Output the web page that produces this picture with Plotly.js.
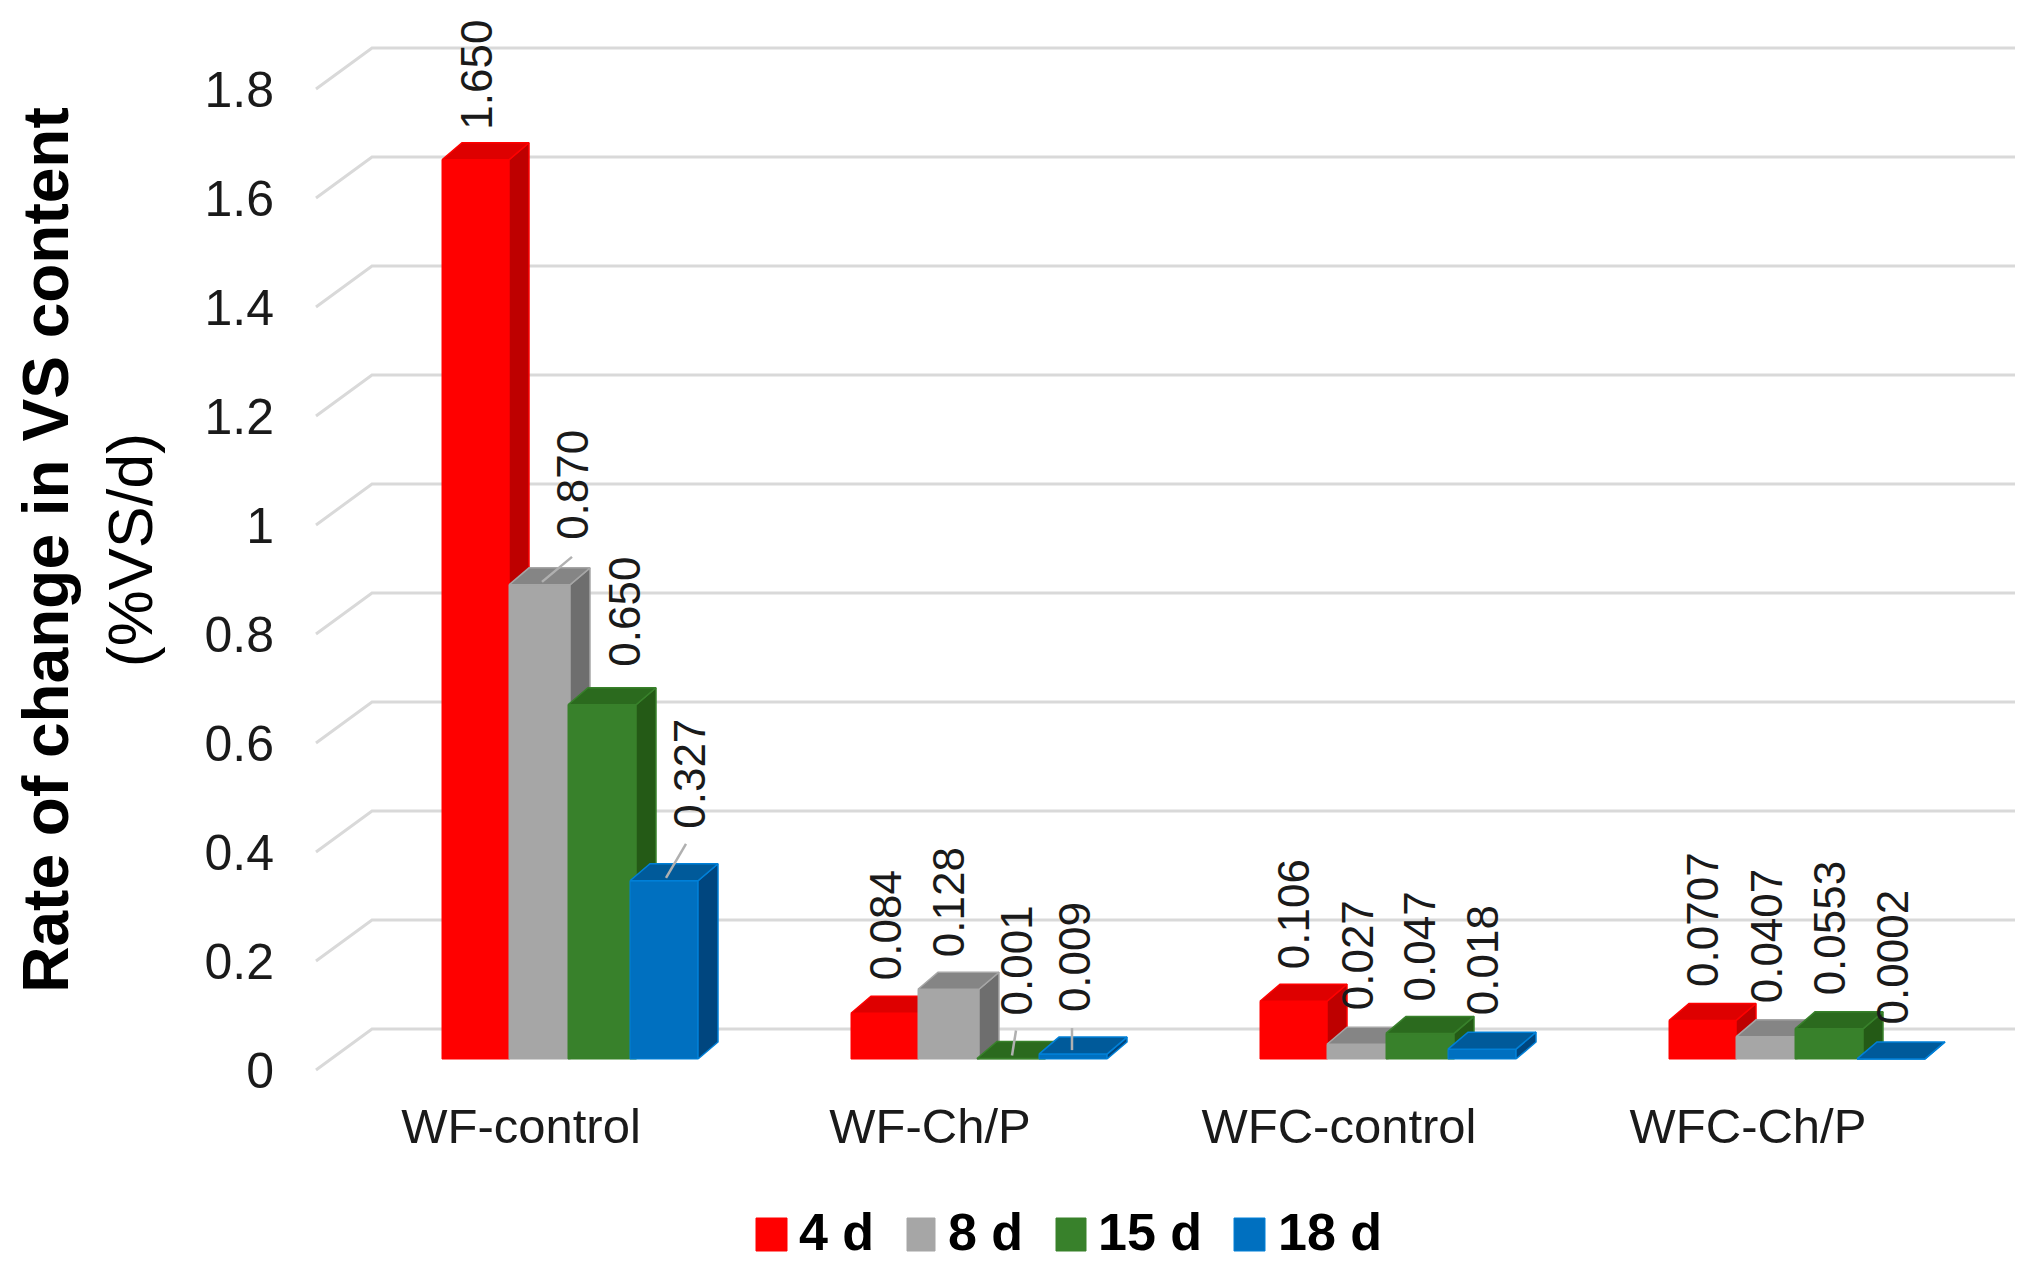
<!DOCTYPE html>
<html>
<head>
<meta charset="utf-8">
<script src="https://cdn.plot.ly/plotly-3.0.1.min.js"></script>
<style>html,body{margin:0;padding:0;background:#fff}#chart{width:2033px;height:1277px}</style>
</head>
<body>
<div id="chart"></div>
<script>
// ---- chart data ----
const categories = ['WF-control', 'WF-Ch/P', 'WFC-control', 'WFC-Ch/P'];
const seriesNames = ['4 d', '8 d', '15 d', '18 d'];
const values4d  = [1.650, 0.084, 0.106, 0.0707];
const values8d  = [0.870, 0.128, 0.027, 0.0407];
const values15d = [0.650, 0.001, 0.047, 0.0553];
const values18d = [0.327, 0.009, 0.018, 0.0002];
const labels4d  = ['1.650', '0.084', '0.106', '0.0707'];
const labels8d  = ['0.870', '0.128', '0.027', '0.0407'];
const labels15d = ['0.650', '0.001', '0.047', '0.0553'];
const labels18d = ['0.327', '0.009', '0.018', '0.0002'];
const yTicks = [0, 0.2, 0.4, 0.6, 0.8, 1, 1.2, 1.4, 1.6, 1.8];

// ---- layout constants (pixels) ----
const W = 2033, H = 1277;
const plotL = 275, plotT = 10, plotB = 1090;
const unitX = 409, unitY = 545;          // px per category, px per value unit
const tickX0 = 521;                      // pixel of first category tick
const frontY0 = 1070, barY0 = 1059;      // pixel of value 0: tick axis, bar axis
const gridDepth = [56, 41], barDepth = [20, 17];
const gridXs = [316, 372, 2015];
const groupStart = -79;                  // px from tick to first bar
const barLeft  = [0, 67, 126, 188];      // px from group start
const barRight = [67, 128, 194, 256];
const labelCentre = [[35,34,33,34],[131,97,97,97],[183,165,159,160],[248,223,222,223]];
const labelGap = [[28,31,30,31],[43,30,32,31],[36,41,30,31],[50,40,32,32]];
const leaders = [ // series, group, px offsets from the bar's top-left corner (+y is down)
  [1, 0, 33, -3, 63, -28],
  [3, 0, 36, -3, 56, -37],
  [2, 1, 35, -3, 39, -28],
  [3, 1, 33, -4, 33, -26]
];

const palette = [
  {front:'#FF0000', top:'#DE0000', side:'#BE0000', edge:'#FF0000'},
  {front:'#A6A6A6', top:'#858585', side:'#6E6E6E', edge:'#A6A6A6'},
  {front:'#38812B', top:'#2B6A1E', side:'#245A16', edge:'#38812B'},
  {front:'#0070C0', top:'#005A9A', side:'#00467F', edge:'#0080D8'}
];
const seriesValues = [values4d, values8d, values15d, values18d];
const seriesLabels = [labels4d, labels8d, labels15d, labels18d];

const pxToX = p => (p - tickX0) / unitX;
const xRange = [pxToX(plotL), pxToX(W)];
const rangeFor = y0 => [(y0 - plotB) / unitY, (y0 - plotT) / unitY];
const axisNames = ['2', '3', '4', '5'];

const traces = [];

// gridlines on the floor edge and back wall
const gx = [], gy = [];
yTicks.forEach(v => {
  gx.push(pxToX(gridXs[0]), pxToX(gridXs[1]), pxToX(gridXs[2]), null);
  gy.push(v, v + gridDepth[1] / unitY, v + gridDepth[1] / unitY, null);
});
traces.push({type:'scatter', mode:'lines', x:gx, y:gy, xaxis:'x', yaxis:'y',
  line:{color:'#D9D9D9', width:3}, hoverinfo:'skip', showlegend:false});

const dxU = barDepth[0] / unitX, dyU = barDepth[1] / unitY;

seriesValues.forEach((vals, s) => {
  const xa = 'x' + axisNames[s], ya = 'y' + axisNames[s];
  const w = (barRight[s] - barLeft[s]) / unitX;
  const off = (groupStart + barLeft[s]) / unitX;
  traces.push({type:'bar', name:seriesNames[s], x:categories.map((c, i) => i), y:vals,
    width:w, offset:off, xaxis:xa, yaxis:ya, showlegend:false,
    marker:{color:palette[s].front, line:{color:palette[s].edge, width:1}}});
  const sx = [], sy = [], tx = [], ty = [];
  vals.forEach((v, g) => {
    const l = g + off, r = l + w;
    sx.push(r, r + dxU, r + dxU, r, r, null);
    sy.push(0, dyU, v + dyU, v, 0, null);
    tx.push(l, r, r + dxU, l + dxU, l, null);
    ty.push(v, v, v + dyU, v + dyU, v, null);
  });
  traces.push({type:'scatter', mode:'lines', x:sx, y:sy, xaxis:xa, yaxis:ya, fill:'toself',
    fillcolor:palette[s].side, line:{color:palette[s].edge, width:1.5}, hoverinfo:'skip', showlegend:false});
  traces.push({type:'scatter', mode:'lines', x:tx, y:ty, xaxis:xa, yaxis:ya, fill:'toself',
    fillcolor:palette[s].top, line:{color:palette[s].edge, width:1.5}, hoverinfo:'skip', showlegend:false});
});

// rotated data labels
const annotations = [];
seriesValues.forEach((vals, s) => {
  vals.forEach((v, g) => {
    annotations.push({
      xref:'x', yref:'y2',
      x: g + (groupStart + labelCentre[s][g]) / unitX, y: v,
      yshift: labelGap[s][g], xanchor:'center', yanchor:'bottom',
      text: seriesLabels[s][g], textangle:-90, showarrow:false,
      font:{family:'Liberation Sans, Arial, sans-serif', size:44, color:'#1a1a1a'}
    });
  });
});

// leader lines
const shapes = [];
leaders.forEach(([s, g, x0, y0, x1, y1]) => {
  const v = seriesValues[s][g];
  const left = g + (groupStart + barLeft[s]) / unitX;
  shapes.push({type:'line', xref:'x', yref:'y2',
    x0: left + x0 / unitX, x1: left + x1 / unitX,
    y0: v - y0 / unitY, y1: v - y1 / unitY,
    line:{color:'#B0B0B0', width:2.5}});
});

// legend
const legendSwatchX = [756, 907, 1056, 1234];
const legendSwatchW = [31, 28, 30, 31];
const legendTextX = [797, 946, 1096, 1276];
seriesNames.forEach((n, s) => {
  shapes.push({type:'rect', xref:'paper', yref:'paper',
    x0:(legendSwatchX[s] - plotL) / (W - plotL),
    x1:(legendSwatchX[s] + legendSwatchW[s] - plotL) / (W - plotL),
    y0:(plotB - 1251) / (plotB - plotT), y1:(plotB - 1218) / (plotB - plotT),
    fillcolor:palette[s].front, line:{color:palette[s].edge, width:1}});
  annotations.push({xref:'paper', yref:'paper',
    x:(legendTextX[s] - plotL) / (W - plotL), y:(plotB - 1232) / (plotB - plotT),
    xanchor:'left', yanchor:'middle', text:'<b>' + n + '</b>', showarrow:false,
    font:{family:'Liberation Sans, Arial, sans-serif', size:52, color:'#000'}});
});

const layout = {
  width:W, height:H,
  margin:{l:plotL, r:0, t:plotT, b:H - plotB, pad:0},
  paper_bgcolor:'#ffffff', plot_bgcolor:'rgba(0,0,0,0)',
  showlegend:false, barmode:'overlay',
  font:{family:'Liberation Sans, Arial, sans-serif', color:'#1a1a1a'},
  xaxis:{range:xRange, tickvals:categories.map((c, i) => i), ticktext:categories,
    showgrid:false, zeroline:false, showline:false, ticks:'',
    tickfont:{size:49, color:'#1a1a1a'}, ticklabelstandoff:3, automargin:false},
  yaxis:{range:rangeFor(frontY0), tickvals:yTicks, ticktext:yTicks.map(String),
    showgrid:false, zeroline:false, showline:false, ticks:'', automargin:true,
    tickfont:{size:50, color:'#1a1a1a'},
    title:{text:'<b>Rate of change in VS content</b><br><span style="font-size:63px">(%VS/d)</span>',
      font:{size:64, color:'#000'}, standoff:31}},
  annotations, shapes
};
axisNames.forEach(n => {
  layout['xaxis' + n] = {range:xRange, overlaying:'x', visible:false, anchor:'y' + n};
  layout['yaxis' + n] = {range:rangeFor(barY0), overlaying:'y', visible:false, anchor:'x' + n};
});

Plotly.newPlot('chart', traces, layout, {displayModeBar:false, staticPlot:true});
</script>
</body>
</html>
